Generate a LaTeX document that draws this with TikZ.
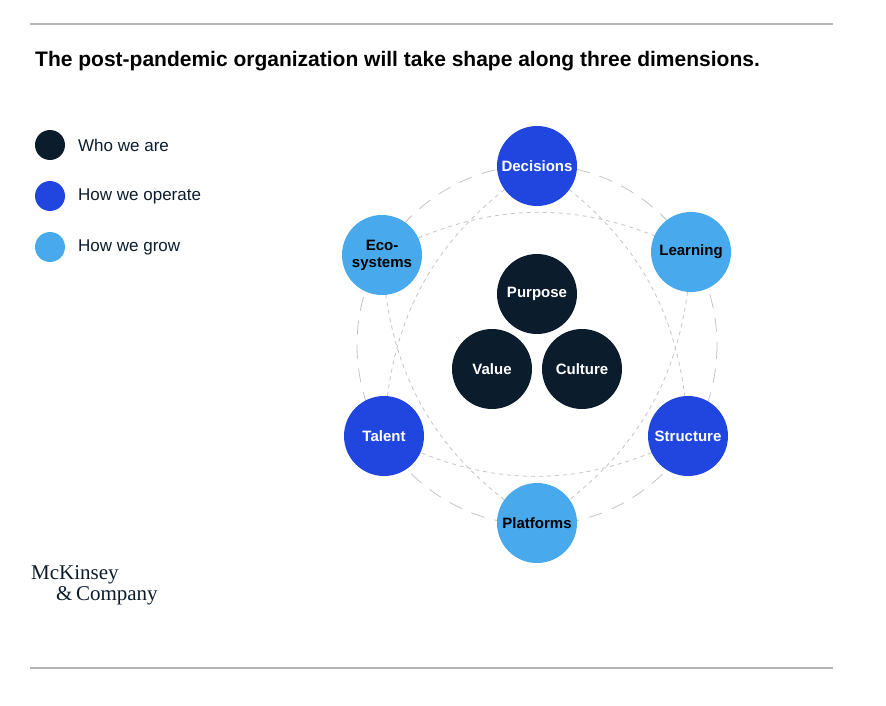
\documentclass[tikz,border=0pt]{standalone}
\usepackage{fontspec}
\setmainfont{Liberation Sans}
\newfontfamily\logofont{Liberation Serif}
\definecolor{dk}{HTML}{0B1C2C}
\definecolor{bl}{HTML}{2046DF}
\definecolor{lb}{HTML}{48AAEC}
\definecolor{rl}{HTML}{B4B4B4}
\definecolor{dl}{HTML}{C4C4C4}
\begin{document}
\begin{tikzpicture}[x=1pt,y=-1pt,
  ball/.style={circle,minimum size=80pt,inner sep=0pt,font=\bfseries\fontsize{15}{17}\selectfont,align=center},
  dkb/.style={ball,fill=dk,text=white},
  blb/.style={ball,fill=bl,text=white},
  lbb/.style={ball,fill=lb,text=black},
  leg/.style={circle,minimum size=30pt,inner sep=0pt},
  legt/.style={anchor=west,font=\fontsize{17}{19}\selectfont,text=dk},
  sd/.style={draw=dl,line width=0.8pt,dash pattern=on 4pt off 4pt},
  ld/.style={draw=dl,line width=0.8pt,dash pattern=on 14pt off 10pt}]
\useasboundingbox (0,0) rectangle (886,706);
\draw[rl,line width=1.2pt] (30,24) -- (833,24);
\draw[rl,line width=1.2pt] (30,668) -- (833,668);
\node[anchor=west,font=\bfseries\fontsize{21}{24}\selectfont,text=black,inner sep=0pt] (title) at (35,61) {The post-pandemic organization will take shape along three dimensions.};
\node[leg,fill=dk] (l1) at (50,145) {};
\node[leg,fill=bl] (l2) at (50,196) {};
\node[leg,fill=lb] (l3) at (50,247) {};
\node[legt,inner sep=0pt] (t1) at (78,145) {Who we are};
\node[legt,inner sep=0pt] (t2) at (78,196) {How we operate};
\node[legt,inner sep=0pt] (t3) at (78,247) {How we grow};
\coordinate (c) at (537,345);
\draw[ld] (c) circle[radius=180];
\coordinate (D) at (537,166); \coordinate (L) at (691,252); \coordinate (S) at (688,436);
\coordinate (P) at (537,523); \coordinate (T) at (384,436); \coordinate (E) at (382,255);
\draw[sd] (E) to[bend left=27] (L);
\draw[sd] (L) to[bend left=27] (P);
\draw[sd] (P) to[bend left=27] (E);
\draw[sd] (D) to[bend left=27] (S);
\draw[sd] (S) to[bend left=27] (T);
\draw[sd] (T) to[bend left=27] (D);
\node[blb] (dec) at (D) {Decisions};
\node[lbb] (lea) at (L) {Learning};
\node[blb] (str) at (S) {Structure};
\node[lbb] (pla) at (P) {Platforms};
\node[blb] (tal) at (T) {Talent};
\node[lbb] (eco) at (E) {Eco-\\systems};
\node[dkb] (pur) at (537,294) {Purpose};
\node[dkb] (val) at (492,369) {Value};
\node[dkb] (cul) at (582,369) {Culture};
\node[anchor=north west,align=left,font=\logofont\fontsize{21}{21}\selectfont,text=dk,inner sep=0pt] (logo) at (31,565) {McKinsey\\\hspace*{25pt}\&\,Company};
\end{tikzpicture}
\end{document}
